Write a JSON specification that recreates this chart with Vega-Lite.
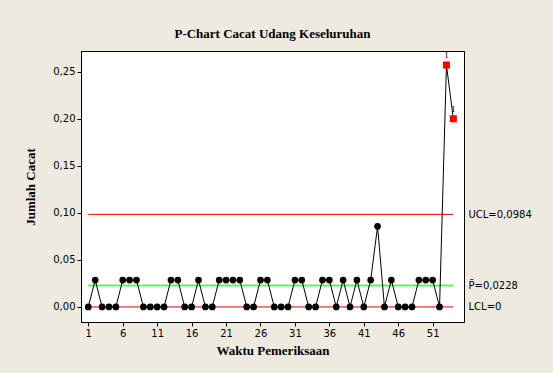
{
  "$schema": "https://vega.github.io/schema/vega-lite/v6.json",
  "width": 383,
  "height": 271,
  "autosize": {"type": "none"},
  "padding": {"left": 81, "top": 51, "right": 89, "bottom": 51},
  "background": "#EEEAE0",
  "config": {
    "view": {"stroke": "#000000", "strokeWidth": 1, "fill": "#ffffff"},
    "axis": {"labelFont": "DejaVu Sans", "labelFontSize": 10, "labelColor": "#000000", "titleFont": "Liberation Serif", "titleFontSize": 13, "titleFontWeight": "bold", "titleColor": "#000000", "tickColor": "#000000", "domainColor": "#000000", "grid": false, "tickSize": 4, "labelOverlap": false}
  },
  "title": {"text": "P-Chart Cacat Udang Keseluruhan", "font": "Liberation Serif", "fontSize": 13, "fontWeight": "bold", "color": "#000000", "offset": 10, "anchor": "middle"},
  "datasets": {
    "pts": [
      {"t": 1, "p": 0}, {"t": 2, "p": 0.0286}, {"t": 3, "p": 0}, {"t": 4, "p": 0}, {"t": 5, "p": 0},
      {"t": 6, "p": 0.0286}, {"t": 7, "p": 0.0286}, {"t": 8, "p": 0.0286}, {"t": 9, "p": 0}, {"t": 10, "p": 0},
      {"t": 11, "p": 0}, {"t": 12, "p": 0}, {"t": 13, "p": 0.0286}, {"t": 14, "p": 0.0286}, {"t": 15, "p": 0},
      {"t": 16, "p": 0}, {"t": 17, "p": 0.0286}, {"t": 18, "p": 0}, {"t": 19, "p": 0}, {"t": 20, "p": 0.0286},
      {"t": 21, "p": 0.0286}, {"t": 22, "p": 0.0286}, {"t": 23, "p": 0.0286}, {"t": 24, "p": 0}, {"t": 25, "p": 0},
      {"t": 26, "p": 0.0286}, {"t": 27, "p": 0.0286}, {"t": 28, "p": 0}, {"t": 29, "p": 0}, {"t": 30, "p": 0},
      {"t": 31, "p": 0.0286}, {"t": 32, "p": 0.0286}, {"t": 33, "p": 0}, {"t": 34, "p": 0}, {"t": 35, "p": 0.0286},
      {"t": 36, "p": 0.0286}, {"t": 37, "p": 0}, {"t": 38, "p": 0.0286}, {"t": 39, "p": 0}, {"t": 40, "p": 0.0286},
      {"t": 41, "p": 0}, {"t": 42, "p": 0.0286}, {"t": 43, "p": 0.0857}, {"t": 44, "p": 0}, {"t": 45, "p": 0.0286},
      {"t": 46, "p": 0}, {"t": 47, "p": 0}, {"t": 48, "p": 0}, {"t": 49, "p": 0.0286}, {"t": 50, "p": 0.0286},
      {"t": 51, "p": 0.0286}, {"t": 52, "p": 0}, {"t": 53, "p": 0.2571, "out": "1"}, {"t": 54, "p": 0.2, "out": "1"}
    ],
    "lines": [
      {"name": "UCL", "v": 0.0984},
      {"name": "CL", "v": 0.0228},
      {"name": "LCL", "v": 0}
    ]
  },
  "resolve": {"scale": {"y": "independent"}, "axis": {"x": "independent"}},
  "layer": [
    {
      "data": {"name": "lines"},
      "encoding": {
        "x": {"datum": 1, "type": "quantitative", "scale": {"domain": [-0.06, 55.55], "nice": false, "zero": false},
          "axis": {"title": "Waktu Pemeriksaan", "values": [1, 6, 11, 16, 21, 26, 31, 36, 41, 46, 51], "labelOverlap": false, "labelPadding": 2, "titlePadding": 6}},
        "x2": {"datum": 54},
        "y": {"field": "v", "type": "quantitative", "scale": {"domain": [-0.016, 0.272], "nice": false, "zero": false},
          "axis": {"orient": "right", "title": null, "values": [0, 0.0228, 0.0984], "ticks": false, "domain": true, "domainColor": "#000000", "labelPadding": 4,
            "labelExpr": "datum.value > 0.05 ? 'UCL=0,0984' : (datum.value > 0.01 ? 'P\u0304=0,0228' : 'LCL=0')"}}
      },
      "layer": [
        {"transform": [{"filter": "datum.name == 'CL'"}], "mark": {"type": "rule", "color": "#66ee66", "strokeWidth": 2}},
        {"transform": [{"filter": "datum.name != 'CL'"}], "mark": {"type": "rule", "color": "#e80000", "strokeWidth": 1}}
      ]
    },
    {
      "data": {"name": "pts"},
      "encoding": {
        "x": {"field": "t", "type": "quantitative", "scale": {"domain": [-0.06, 55.55], "nice": false, "zero": false},
          "axis": {"orient": "top", "title": null, "labels": false, "ticks": false, "domain": true, "domainColor": "#000000"}},
        "y": {"field": "p", "type": "quantitative", "scale": {"domain": [-0.016, 0.272], "nice": false, "zero": false},
          "axis": {"title": "Jumlah Cacat", "values": [0, 0.05, 0.1, 0.15, 0.2, 0.25], "labelExpr": "replace(format(datum.value, '.2f'), '.', ',')", "labelPadding": 2, "titlePadding": 15}}
      },
      "layer": [
        {"mark": {"type": "line", "color": "#000000", "strokeWidth": 1}},
        {"transform": [{"filter": "!datum.out"}], "mark": {"type": "circle", "color": "#000000", "opacity": 1, "size": 45}},
        {"transform": [{"filter": "datum.out"}], "mark": {"type": "square", "color": "#ff0000", "opacity": 1, "size": 50}},
        {"transform": [{"filter": "datum.out"}], "mark": {"type": "text", "font": "Liberation Serif", "fontSize": 9, "dy": -10, "color": "#000000"}, "encoding": {"text": {"field": "out"}}}
      ]
    }
  ]
}
